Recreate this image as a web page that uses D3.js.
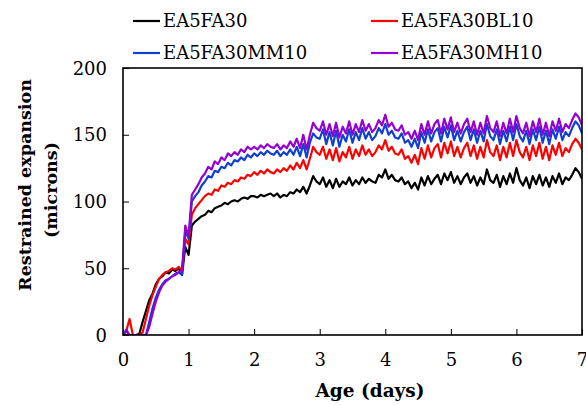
<!DOCTYPE html>
<html>
<head>
<meta charset="utf-8">
<script src="https://cdn.jsdelivr.net/npm/d3@7/dist/d3.min.js"></script>
<style>
  html, body { margin: 0; padding: 0; background: #fff; }
  svg { display: block; }
</style>
</head>
<body>
<svg id="chart" width="586" height="405"></svg>
<script>
// ---- Data ----
const seriesNames = ["EA5FA30", "EA5FA30BL10", "EA5FA30MM10", "EA5FA30MH10"];
const seriesColors = ["#000000", "#ff0000", "#1040d0", "#9400d3"];
const xTicks = [0, 1, 2, 3, 4, 5, 6, 7];
const yTicks = [0, 50, 100, 150, 200];
// age in days, sampled every 0.05 day from 0 to 7
const ageDays = d3.range(0, 141).map(i => +(i * 0.05).toFixed(2));

const EA5FA30 = [
  0,0,0,0,0,1,10,18,26,31, 38,42,44,47,46,49,48,50,45,66,
  60,82,85,87,89,90,93,92,95,96, 97,99,98,100,101,100,102,103,102,104,
  104,103,105,104,105,106,104,106,103,105, 104,107,106,109,107,111,106,112,119,115,
  113,118,111,116,110,117,111,115,113,118, 112,116,113,118,114,117,115,114,120,118,
  124,117,120,116,115,118,113,115,110,114, 109,118,112,119,113,117,120,113,121,116,
  122,114,119,113,118,121,114,119,112,118, 113,124,116,114,120,111,119,113,121,114,
  125,116,112,118,110,119,113,120,112,118, 111,119,114,121,113,118,116,120,125,122,
  117
];
const EA5FA30BL10 = [
  0,3,12,0,0,0,2,12,22,30, 36,42,45,47,48,50,49,51,48,72,
  68,90,95,98,101,104,106,105,109,108, 112,111,114,113,116,115,118,117,120,119,
  122,120,123,121,124,122,121,124,122,125, 123,127,124,129,125,131,124,132,141,137,
  135,141,132,139,131,140,130,137,133,141, 132,139,134,142,135,139,134,137,142,139,
  146,138,141,136,135,139,132,134,129,135, 128,140,132,142,133,140,143,133,144,136,
  145,134,141,133,140,144,134,142,132,141, 133,146,137,134,142,131,141,133,144,134,
  146,137,133,141,131,142,134,144,132,141, 131,142,135,144,134,140,137,143,147,144,
  139
];
const EA5FA30MM10 = [
  0,3,0,0,0,0,0,0,10,20, 28,34,38,41,42,44,46,47,45,78,
  72,100,104,107,112,115,119,118,123,122, 126,125,129,127,131,130,133,131,135,133,
  136,134,137,135,138,136,135,138,134,137, 135,139,135,141,134,143,133,144,151,148,
  147,154,143,152,142,153,141,150,145,154, 144,152,146,155,147,152,146,149,155,151,
  158,150,153,148,147,151,144,146,141,147, 140,152,144,154,145,152,155,145,156,148,
  157,146,153,145,152,156,146,154,144,153, 145,158,149,146,154,143,153,145,156,146,
  158,149,145,153,143,154,146,156,144,153, 143,154,147,156,146,152,149,155,160,157,
  151
];
const EA5FA30MH10 = [
  0,4,0,0,0,0,0,0,6,16, 25,32,37,40,42,44,45,47,48,82,
  74,105,109,113,118,121,126,124,130,128, 133,131,136,134,137,135,139,137,141,139,
  141,139,142,140,143,141,140,143,139,142, 140,145,141,147,140,150,139,150,159,155,
  153,160,150,158,149,159,148,156,151,160, 150,158,152,161,153,158,152,155,161,157,
  165,156,159,154,153,157,150,152,147,153, 146,158,150,160,151,158,161,151,162,154,
  163,152,159,151,158,162,152,160,150,159, 151,164,155,152,160,149,159,151,162,152,
  164,155,151,159,149,160,152,162,150,159, 149,160,153,162,152,158,155,161,166,163,
  157
];
const seriesValues = [EA5FA30, EA5FA30BL10, EA5FA30MM10, EA5FA30MH10];

// ---- Layout ----
const FONT = "'DejaVu Serif', 'Liberation Serif', serif";
const svg = d3.select("#chart");
const pLeft = 123, pRight = 582, pTop = 68, pBottom = 335;

const x = d3.scaleLinear().domain([0, 7]).range([pLeft, pRight]);
const y = d3.scaleLinear().domain([0, 200]).range([pBottom, pTop]);

// clip
svg.append("defs").append("clipPath").attr("id", "plotclip")
  .append("rect").attr("x", pLeft).attr("y", pTop - 2)
  .attr("width", pRight - pLeft).attr("height", pBottom - pTop + 2);

// series lines (black first, purple last)
const line = d3.line().x((d, i) => x(ageDays[i])).y(d => y(d));
const g = svg.append("g").attr("clip-path", "url(#plotclip)");
seriesValues.forEach((vals, k) => {
  g.append("path")
    .datum(vals)
    .attr("d", line)
    .attr("fill", "none")
    .attr("stroke", seriesColors[k])
    .attr("stroke-width", 2.2)
    .attr("stroke-linejoin", "round");
});

// axes (ticks inside)
const xAxis = d3.axisBottom(x).tickValues(xTicks).tickSize(-6).tickPadding(16).tickFormat(d3.format("d"));
const yAxis = d3.axisLeft(y).tickValues(yTicks).tickSize(-6).tickPadding(16).tickFormat(d3.format("d"));

const gx = svg.append("g").attr("transform", `translate(0,${pBottom})`).call(xAxis);
const gy = svg.append("g").attr("transform", `translate(${pLeft},0)`).call(yAxis);
[gx, gy].forEach(ax => {
  ax.attr("font-family", FONT).attr("font-size", 18);
  ax.select(".domain").remove();
  ax.selectAll(".tick line").attr("stroke", "#000").attr("stroke-width", 1);
  ax.selectAll(".tick text").attr("font-family", FONT).attr("font-size", 18).attr("fill", "#000");
});
gx.selectAll(".tick text").attr("dy", "0.71em").attr("y", 18);
gy.selectAll(".tick text").attr("x", -16).attr("dy", "0.34em");

// frame
svg.append("rect").attr("x", pLeft).attr("y", pTop)
  .attr("width", pRight - pLeft).attr("height", pBottom - pTop)
  .attr("fill", "none").attr("stroke", "#000").attr("stroke-width", 1.6);

// axis titles
svg.append("text")
  .attr("x", 370).attr("y", 397)
  .attr("text-anchor", "middle")
  .attr("font-family", FONT).attr("font-size", 18.5).attr("font-weight", "bold")
  .text("Age (days)");

svg.append("text")
  .attr("transform", "translate(31,185) rotate(-90)")
  .attr("text-anchor", "middle")
  .attr("font-family", FONT).attr("font-size", 17.5).attr("font-weight", "bold")
  .text("Restrained expansion");
svg.append("text")
  .attr("transform", "translate(57,190) rotate(-90)")
  .attr("text-anchor", "middle")
  .attr("font-family", FONT).attr("font-size", 17.5).attr("font-weight", "bold")
  .text("(microns)");

// legend
const legendPos = [[133, 21], [371, 21], [133, 53], [371, 53]];
seriesNames.forEach((name, k) => {
  const [lx, ly] = legendPos[k];
  svg.append("line")
    .attr("x1", lx).attr("x2", lx + 27).attr("y1", ly).attr("y2", ly)
    .attr("stroke", seriesColors[k]).attr("stroke-width", 2.2);
  svg.append("text")
    .attr("x", lx + 30).attr("y", ly).attr("dy", "0.35em")
    .attr("font-family", FONT).attr("font-size", 18)
    .text(name);
});
</script>
</body>
</html>
